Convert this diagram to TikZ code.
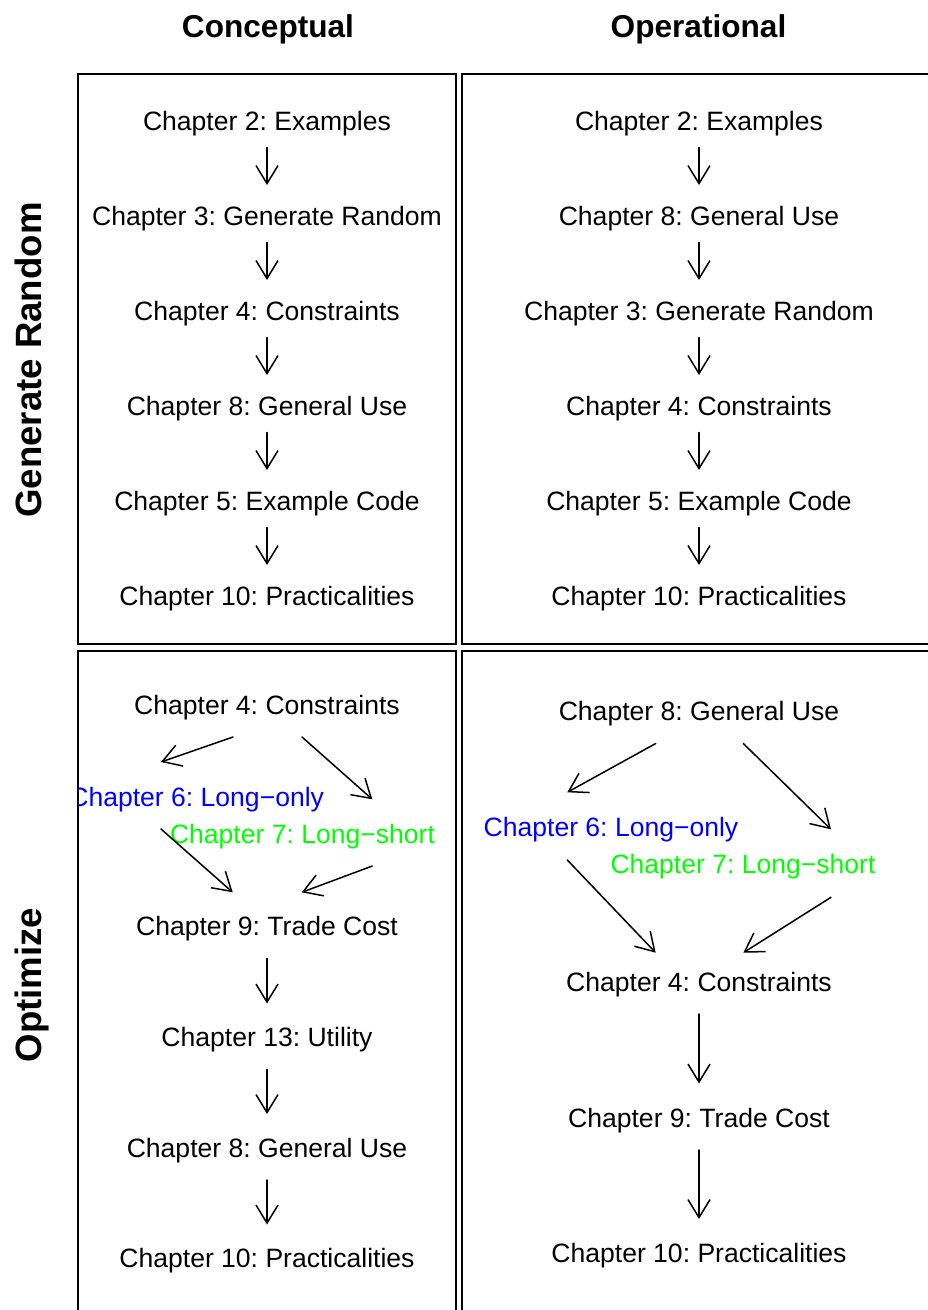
\documentclass[tikz,border=0pt]{standalone}
\usepackage{fontspec}
\setmainfont{Liberation Sans}
\usetikzlibrary{arrows.meta,calc}
\definecolor{rblue}{RGB}{0,0,255}
\definecolor{rgreen}{RGB}{0,255,0}
\frenchspacing
\begin{document}
\begin{tikzpicture}[x=1pt,y=-1pt,
  lbl/.style={font=\fontsize{26.55}{30}\selectfont, anchor=base, inner sep=0pt},
  hdr/.style={font=\fontsize{31.6}{36}\selectfont\bfseries, anchor=base, inner sep=0pt},
  rowlbl/.style={font=\fontsize{36.6}{40}\selectfont\bfseries, anchor=base, inner sep=0pt, rotate=90},
  arr/.style={-{Straight Barb[length=18pt,width=22pt]}, line width=1.5pt, line cap=round},
  panel/.style={line width=1.6pt}]
\useasboundingbox (0,0) rectangle (927,1310);
\fill[white] (0,0) rectangle (927,1310);

% headers
\node[hdr] (hc) at (268,37.7) {Conceptual};
\node[hdr] (ho) at (698.5,37.7) {Operational};
\node[rowlbl] (rg) at (41,360) {Generate Random};
\node[rowlbl] (ro) at (41,985) {Optimize};

% panel frames
\draw[panel] (78,74) rectangle (456,644);
\draw[panel] (462,74) rectangle (940,644);
\draw[panel] (78,651) rectangle (456,1320);
\draw[panel] (462,651) rectangle (940,1320);

% top-left: Conceptual / Generate Random
\begin{scope}
\clip (78,74) rectangle (456,644);
\node[lbl] (a1) at (267,130) {Chapter 2: Examples};
\node[lbl] (a2) at (267,225) {Chapter 3: Generate Random};
\node[lbl] (a3) at (267,320) {Chapter 4: Constraints};
\node[lbl] (a4) at (267,415) {Chapter 8: General Use};
\node[lbl] (a5) at (267,510) {Chapter 5: Example Code};
\node[lbl] (a6) at (267,605) {Chapter 10: Practicalities};
\foreach \p/\q in {a1/a2,a2/a3,a3/a4,a4/a5,a5/a6}
  \draw[arr] ($(\p.base)+(0,17.5)$) -- ($(\q.base)+(0,-40)$);
\end{scope}

% top-right: Operational / Generate Random
\begin{scope}
\clip (462,74) rectangle (940,644);
\node[lbl] (b1) at (699,130) {Chapter 2: Examples};
\node[lbl] (b2) at (699,225) {Chapter 8: General Use};
\node[lbl] (b3) at (699,320) {Chapter 3: Generate Random};
\node[lbl] (b4) at (699,415) {Chapter 4: Constraints};
\node[lbl] (b5) at (699,510) {Chapter 5: Example Code};
\node[lbl] (b6) at (699,605) {Chapter 10: Practicalities};
\foreach \p/\q in {b1/b2,b2/b3,b3/b4,b4/b5,b5/b6}
  \draw[arr] ($(\p.base)+(0,17.5)$) -- ($(\q.base)+(0,-40)$);
\end{scope}

% bottom-left: Conceptual / Optimize
\begin{scope}
\clip (78,651) rectangle (456,1320);
\node[lbl] (c4) at (267,714.5) {Chapter 4: Constraints};
\node[lbl, text=rblue] (c6) at (196.7,806) {Chapter 6: Long−only};
\node[lbl, text=rgreen] (c7) at (302.5,843) {Chapter 7: Long−short};
\node[lbl] (c9) at (267,935.5) {Chapter 9: Trade Cost};
\node[lbl] (c13) at (267,1046.5) {Chapter 13: Utility};
\node[lbl] (c8) at (267,1157) {Chapter 8: General Use};
\node[lbl] (c10) at (267,1267.5) {Chapter 10: Practicalities};
\draw[arr] ($(c4.base)+(-34,22.5)$) -- ($(c6.base)+(-35.7,-44)$);
\draw[arr] ($(c4.base)+(35,22.5)$) -- ($(c7.base)+(69.8,-43.7)$);
\draw[arr] ($(c6.base)+(-35.7,23)$) -- ($(c9.base)+(-34.3,-43.2)$);
\draw[arr] ($(c7.base)+(69.8,23)$) -- ($(c9.base)+(34.7,-43.2)$);
\foreach \p/\q in {c9/c13,c13/c8,c8/c10}
  \draw[arr] ($(\p.base)+(0,23)$) -- ($(\q.base)+(0,-43)$);
\end{scope}

% bottom-right: Operational / Optimize
\begin{scope}
\clip (462,651) rectangle (940,1320);
\node[lbl] (d8) at (699,720.5) {Chapter 8: General Use};
\node[lbl, text=rblue] (d6) at (611,836) {Chapter 6: Long−only};
\node[lbl, text=rgreen] (d7) at (743,873.3) {Chapter 7: Long−short};
\node[lbl] (d4) at (699,991) {Chapter 4: Constraints};
\node[lbl] (d9) at (699,1127) {Chapter 9: Trade Cost};
\node[lbl] (d10) at (699,1262.5) {Chapter 10: Practicalities};
\draw[arr] ($(d8.base)+(-43.3,23)$) -- ($(d6.base)+(-43.7,-43.7)$);
\draw[arr] ($(d8.base)+(44.3,23)$) -- ($(d7.base)+(88,-44)$);
\draw[arr] ($(d6.base)+(-43.7,24)$) -- ($(d4.base)+(-43.3,-38.3)$);
\draw[arr] ($(d7.base)+(88,24)$) -- ($(d4.base)+(44.3,-38.3)$);
\foreach \p/\q in {d4/d9,d9/d10}
  \draw[arr] ($(\p.base)+(0,23)$) -- ($(\q.base)+(0,-43.5)$);
\end{scope}
\end{tikzpicture}
\end{document}
